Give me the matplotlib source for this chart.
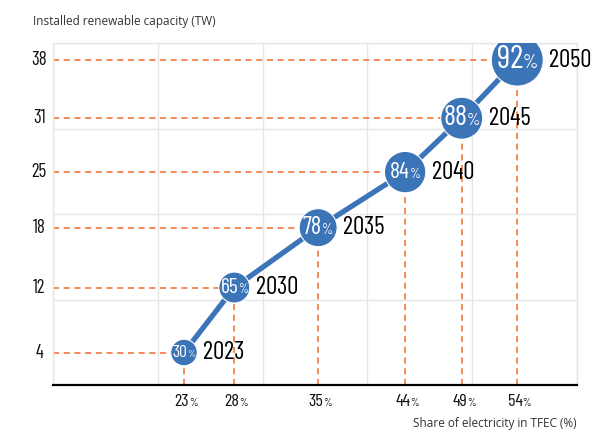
import matplotlib
matplotlib.use("Agg")
import matplotlib.pyplot as plt
from matplotlib.offsetbox import TextArea, HPacker, AnnotationBbox

# data
years = ["2023", "2030", "2035", "2040", "2045", "2050"]
elec_share = [22.5, 27.3, 35.3, 43.6, 49.0, 54.3]      # % of TFEC (x)
capacity = [3.8, 11.4, 18.4, 24.9, 31.2, 38.0]         # TW (y)
ren_share = ["30", "65", "78", "84", "88", "92"]        # bubble labels
x_labels = ["23", "28", "35", "44", "49", "54"]
y_labels = ["4", "12", "18", "25", "31", "38"]

# bubble radius (px) and label size (pt)
radius_px = [13.3, 15.5, 19, 20.7, 21, 26]
num_size = [12.5, 15.5, 17.5, 17, 20.5, 23.5]

NARROW = ["Barlow Condensed", "DejaVu Sans"]
BLUE = "#3C74B8"
ORANGE = "#F26A2A"
DPI = 100
PT = 72 / DPI

fig = plt.figure(figsize=(6, 4.43), dpi=DPI)
ax = fig.add_axes([53 / 600, 58 / 443, 524 / 600, 342 / 443])
ax.set_xlim(10, 60)
ax.set_ylim(0, 40)
ax.set_xticks(range(10, 61, 10))
ax.set_yticks(range(0, 41, 10))
ax.grid(True, color="#E6E6E6", lw=1)
ax.set_axisbelow(True)
ax.tick_params(length=0, labelbottom=False, labelleft=False)
for s in ["top", "right", "left"]:
    ax.spines[s].set_color("#E6E6E6")
    ax.spines[s].set_linewidth(1)
ax.spines["bottom"].set_color("black")
ax.spines["bottom"].set_linewidth(1.6)

# dashed guides
for x, y in zip(elec_share, capacity):
    ax.plot([10, x], [y, y], color=ORANGE, lw=1.1, ls=(0, (4, 3)), zorder=2)
    ax.plot([x, x], [0, y], color=ORANGE, lw=1.1, ls=(0, (4, 3)), zorder=2)

ax.plot(elec_share, capacity, color=BLUE, lw=3.8, solid_capstyle="butt", zorder=3)
sizes = [(2 * r * PT) ** 2 for r in radius_px]
ax.scatter(elec_share, capacity, s=sizes, color=BLUE, edgecolor="white",
           linewidth=0.8, zorder=4)

for x, y, lab, yr, r, fs in zip(elec_share, capacity, ren_share, years,
                                radius_px, num_size):
    box = HPacker(children=[
        TextArea(lab, textprops=dict(color="white", fontsize=fs, family=NARROW)),
        TextArea("%", textprops=dict(color="white", fontsize=fs * 0.6, family=NARROW)),
    ], align="baseline", pad=0, sep=0)
    ax.add_artist(AnnotationBbox(box, (x, y), frameon=False,
                                 box_alignment=(0.5, 0.5), zorder=5))
    ax.annotate(yr, (x, y), xytext=((r + 6) * PT, 0), textcoords="offset points",
                ha="left", va="center", fontsize=18, family=NARROW,
                color="black", zorder=5)

# x tick labels
for x, lab in zip(elec_share, x_labels):
    box = HPacker(children=[
        TextArea(lab, textprops=dict(color="#111111", fontsize=13, family=NARROW)),
        TextArea("%", textprops=dict(color="#111111", fontsize=8, family=NARROW)),
    ], align="baseline", pad=0, sep=0)
    ax.add_artist(AnnotationBbox(box, (x, 0), xycoords="data", xybox=(1.5, -12),
                                 boxcoords="offset points", frameon=False,
                                 box_alignment=(0.5, 0.5), annotation_clip=False))

# y tick labels
for y, lab in zip(capacity, y_labels):
    ax.annotate(lab, (10, y), xytext=(-10, 0), textcoords="offset points",
                ha="center", va="center", fontsize=13.5, family=NARROW,
                color="#111111", annotation_clip=False)

fig.text(33 / 600, 1 - 22 / 443, "Installed renewable capacity (TW)",
         fontsize=8.5, family="Open Sans", color="#333333", va="center")
fig.text(577 / 600, 1 - 423 / 443, "Share of electricity in TFEC (%)",
         fontsize=8.5, family="Open Sans", color="#333333", va="center", ha="right")

fig.savefig("out.png", dpi=DPI)
